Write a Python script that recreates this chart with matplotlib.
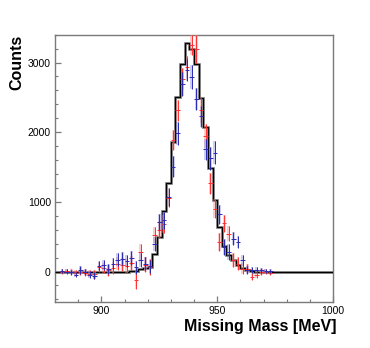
import numpy as np
import matplotlib
matplotlib.use("Agg")
import matplotlib.pyplot as plt
from matplotlib.ticker import MultipleLocator, FixedLocator

# ---------------- data ----------------
hist_start = 880.0
hist_width = 2.0
hist_counts = [0, 0, 0, 0, 0, 0, 0, 0, 0, 0, 0, 0, 0, 0, 0, 0,
               5, 15, 30, 45, 70, 250, 497, 866, 1264, 1862, 2509, 2974,
               3276, 3190, 2974, 2486, 2078, 1480, 1024, 641, 364, 234,
               162, 90, 57, 19, 8,
               0, 0, 0, 0, 0, 0, 0, 0, 0, 0, 0, 0, 0, 0, 0, 0, 0]

centers = [883, 885, 887, 889, 891, 893, 895, 897, 899, 901, 903, 905, 907,
           909, 911, 913, 915, 917, 919, 921, 923, 925, 927, 929, 931, 933,
           935, 937, 939, 941, 943, 945, 947, 949, 951, 953, 955, 957, 959,
           961, 963, 965, 967, 969, 971, 973]

red_vals = [0, 10, 0, -20, 0, -20, -30, -40, 60, 52, 18, 49, 115, 100, 80,
            125, -125, 280, 100, 66, 522, 600, 680, 1050, 1886, 2318, 2760,
            2930, 3251, 3194, 2318, 1950, 1264, 905, 425, 690, 546, 162, 115,
            43, 43, -77, -53, -10, -5, -15]
red_err = [30, 30, 35, 40, 45, 50, 55, 60, 70, 75, 80, 85, 90, 95, 100, 105,
           130, 120, 110, 110, 115, 120, 125, 130, 140, 150, 160, 170, 145,
           200, 180, 170, 150, 140, 130, 120, 110, 100, 90, 80, 60, 50, 45,
           40, 35, 30]

blue_vals = [10, 0, -10, -43, 18, -10, -43, -58, 81, 90, 36, 115, 172, 187,
             153, 201, 60, 170, 115, 76, 402, 713, 737, 1072, 1503, 1983,
             2691, 2892, 2796, 2476, 2231, 1757, 1624, 1704, 819, 354, 282,
             474, 425, 162, 20, 19, 29, 19, 10, 9]
blue_err = [30, 30, 35, 40, 55, 45, 50, 55, 65, 70, 75, 80, 96, 95, 90, 100,
            90, 100, 95, 90, 100, 110, 120, 130, 150, 160, 170, 160, 170, 160,
            150, 150, 160, 165, 140, 120, 110, 100, 90, 80, 60, 45, 40, 35,
            30, 30]

x_major = [900, 950, 1000]
y_major = [0, 1000, 2000, 3000]
x_label = "Missing Mass [MeV]"
y_label = "Counts"

# ---------------- figure ----------------
plt.rcParams['font.family'] = ['Liberation Sans', 'DejaVu Sans']
W, H = 370, 348
fig = plt.figure(figsize=(W / 100, H / 100), dpi=100)
ax = fig.add_axes([55 / W, 1 - 301.5 / H, (333 - 55) / W, (301.5 - 34.7) / H])

edges = hist_start + hist_width * np.arange(len(hist_counts) + 1)
ax.stairs(hist_counts, edges, color='#8a8a8a', lw=2.0, zorder=2)
ax.stairs(hist_counts, edges, color='black', lw=0.9, zorder=3)

c = np.array(centers, dtype=float)
for vals, errs, line_col, box_col in [
        (red_vals, red_err, '#ff3030', '#ff8080'),
        (blue_vals, blue_err, '#2a2ab4', '#8484dc')]:
    v = np.array(vals, dtype=float)
    e = np.array(errs, dtype=float)
    ax.bar(c, 2 * e, bottom=v - e, width=1.2, color=box_col, alpha=0.4,
           linewidth=0, zorder=4)
    ax.errorbar(c, v, yerr=e, xerr=1.0, fmt='none', ecolor=line_col,
                elinewidth=0.7, capsize=0, zorder=5)

ax.set_xlim(880, 1000)
ax.set_ylim(-430, 3400)
ax.xaxis.set_major_locator(FixedLocator(x_major))
ax.xaxis.set_minor_locator(MultipleLocator(10))
ax.yaxis.set_major_locator(FixedLocator(y_major))
ax.yaxis.set_minor_locator(MultipleLocator(200))

for s in ax.spines.values():
    s.set_color('#7a7a7a')
    s.set_linewidth(1.0)
ax.tick_params(which='both', direction='in', color='#7a7a7a',
               labelsize=7.5, labelcolor='black')
ax.tick_params(which='major', length=4.2, width=0.9, pad=3)
ax.tick_params(which='minor', length=2.2, width=0.8)

fig.text(336 / W, 1 - 326 / H, x_label, ha='right', va='center',
         fontsize=11.5, fontweight='bold')
fig.text(17 / W, 1 - 35 / H, y_label, ha='center', va='top', rotation=90,
         fontsize=11.5, fontweight='bold')

fig.savefig('out.png', dpi=100)
